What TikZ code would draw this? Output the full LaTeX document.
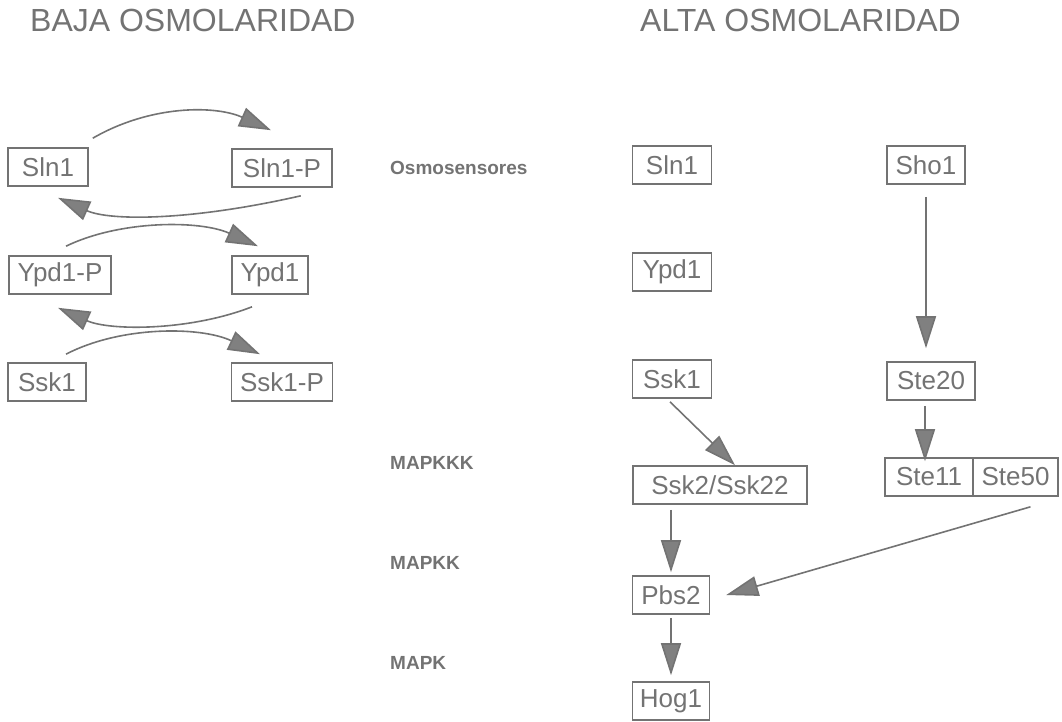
\documentclass[tikz,border=0pt]{standalone}
\usepackage{fontspec}
\setmainfont{Liberation Sans}
\usetikzlibrary{arrows.meta}
\definecolor{ink}{gray}{0.45}
\definecolor{headfill}{gray}{0.5}
\tikzset{
  pbox/.style={draw=ink, line width=1.6pt, text=ink, inner sep=0pt,
     font=\fontsize{26}{30}\selectfont, minimum height=38pt},
  lvl/.style={text=ink, anchor=west, inner sep=0pt, font=\fontsize{19}{22}\selectfont\bfseries},
  ttl/.style={text=ink, anchor=west, inner sep=0pt, font=\fontsize{32}{36}\selectfont},
  arr/.style={draw=ink, line width=1.6pt,
     -{Triangle[length=32pt,width=20pt,fill=headfill]}},
}
\begin{document}
\begin{tikzpicture}[x=1pt,y=-1pt]
\useasboundingbox (0,0) rectangle (1062,721);
% titles
\node[ttl] (tbaja) at (30,20) {BAJA OSMOLARIDAD};
\node[ttl] (talta) at (640,20) {ALTA OSMOLARIDAD};
% left side
\node[pbox, minimum width=80pt]  (sln1L)  at (48,167)  {Sln1};
\node[pbox, minimum width=100pt] (sln1pL) at (282,168) {Sln1-P};
\node[pbox, minimum width=102pt] (ypd1pL) at (60,275)  {Ypd1-P};
\node[pbox, minimum width=76pt]  (ypd1L)  at (270,275) {Ypd1};
\node[pbox, minimum width=78pt]  (ssk1L)  at (47,382)  {Ssk1};
\node[pbox, minimum width=101pt] (ssk1pL) at (282,382) {Ssk1-P};
\draw[arr] ([shift={(4,-9)}]sln1L.north east) .. controls (150,105) and (215,105) .. ([shift={(-11,-18)}]sln1pL.north);
\draw[arr] ([shift={(-32,8)}]sln1pL.south east) .. controls (190,221) and (110,221) .. ([shift={(10,11)}]sln1L.south);
\draw[arr] ([shift={(6,-9)}]ypd1pL.north) .. controls (120,220) and (200,220) .. ([shift={(-12,-9)}]ypd1L.north);
\draw[arr] ([shift={(-18,12)}]ypd1L.south) .. controls (190,331) and (110,331) .. ([shift={(-2,13)}]ypd1pL.south);
\draw[arr] ([shift={(19,-8)}]ssk1L.north) .. controls (120,326) and (200,326) .. ([shift={(-22,-8)}]ssk1pL.north);
% right side labels
\node[lvl] (losmo) at (390,168) {Osmosensores};
\node[lvl] (lmkkk) at (390,463) {MAPKKK};
\node[lvl] (lmkk)  at (390,563) {MAPKK};
\node[lvl] (lmk)   at (390,663) {MAPK};
% right side boxes
\node[pbox, minimum width=79pt]  (sln1R) at (672,165) {Sln1};
\node[pbox, minimum width=79pt]  (ypd1R) at (672,272) {Ypd1};
\node[pbox, minimum width=78pt]  (sho1)  at (926,165) {Sho1};
\node[pbox, minimum width=88pt]  (ste20) at (931,381) {Ste20};
\node[pbox, minimum width=79pt]  (ssk1R) at (672,379) {Ssk1};
\node[pbox, minimum width=174pt] (ssk2)  at (720,485) {Ssk2/Ssk22};
\node[pbox, minimum width=88pt]  (ste11) at (929,477) {Ste11};
\node[pbox, minimum width=85pt]  (ste50) at (1015.5,477) {Ste50};
\node[pbox, minimum width=77pt]  (pbs2)  at (671,595) {Pbs2};
\node[pbox, minimum width=77pt]  (hog1)  at (671,701) {Hog1};
% right arrows
\draw[arr, shorten <=12pt, shorten >=13pt] (sho1.south) -- (sho1.south |- ste20.north);
\draw[arr, shorten <=5pt, shorten >=-4pt] ([xshift=-6pt]ste20.south) -- ([xshift=-6pt]ste20.south |- ste11.north);
\draw[arr] ([shift={(-2,3)}]ssk1R.south) -- ([shift={(15,0)}]ssk2.north);
\draw[arr, shorten <=5pt, shorten >=3pt] (ssk2.south -| pbs2.north) -- (pbs2.north);
\draw[arr, shorten <=3pt, shorten >=6pt] (pbs2.south) -- (hog1.north);
\draw[arr] ([shift={(15,10)}]ste50.south) -- ([xshift=16pt]pbs2.east);
\end{tikzpicture}
\end{document}
